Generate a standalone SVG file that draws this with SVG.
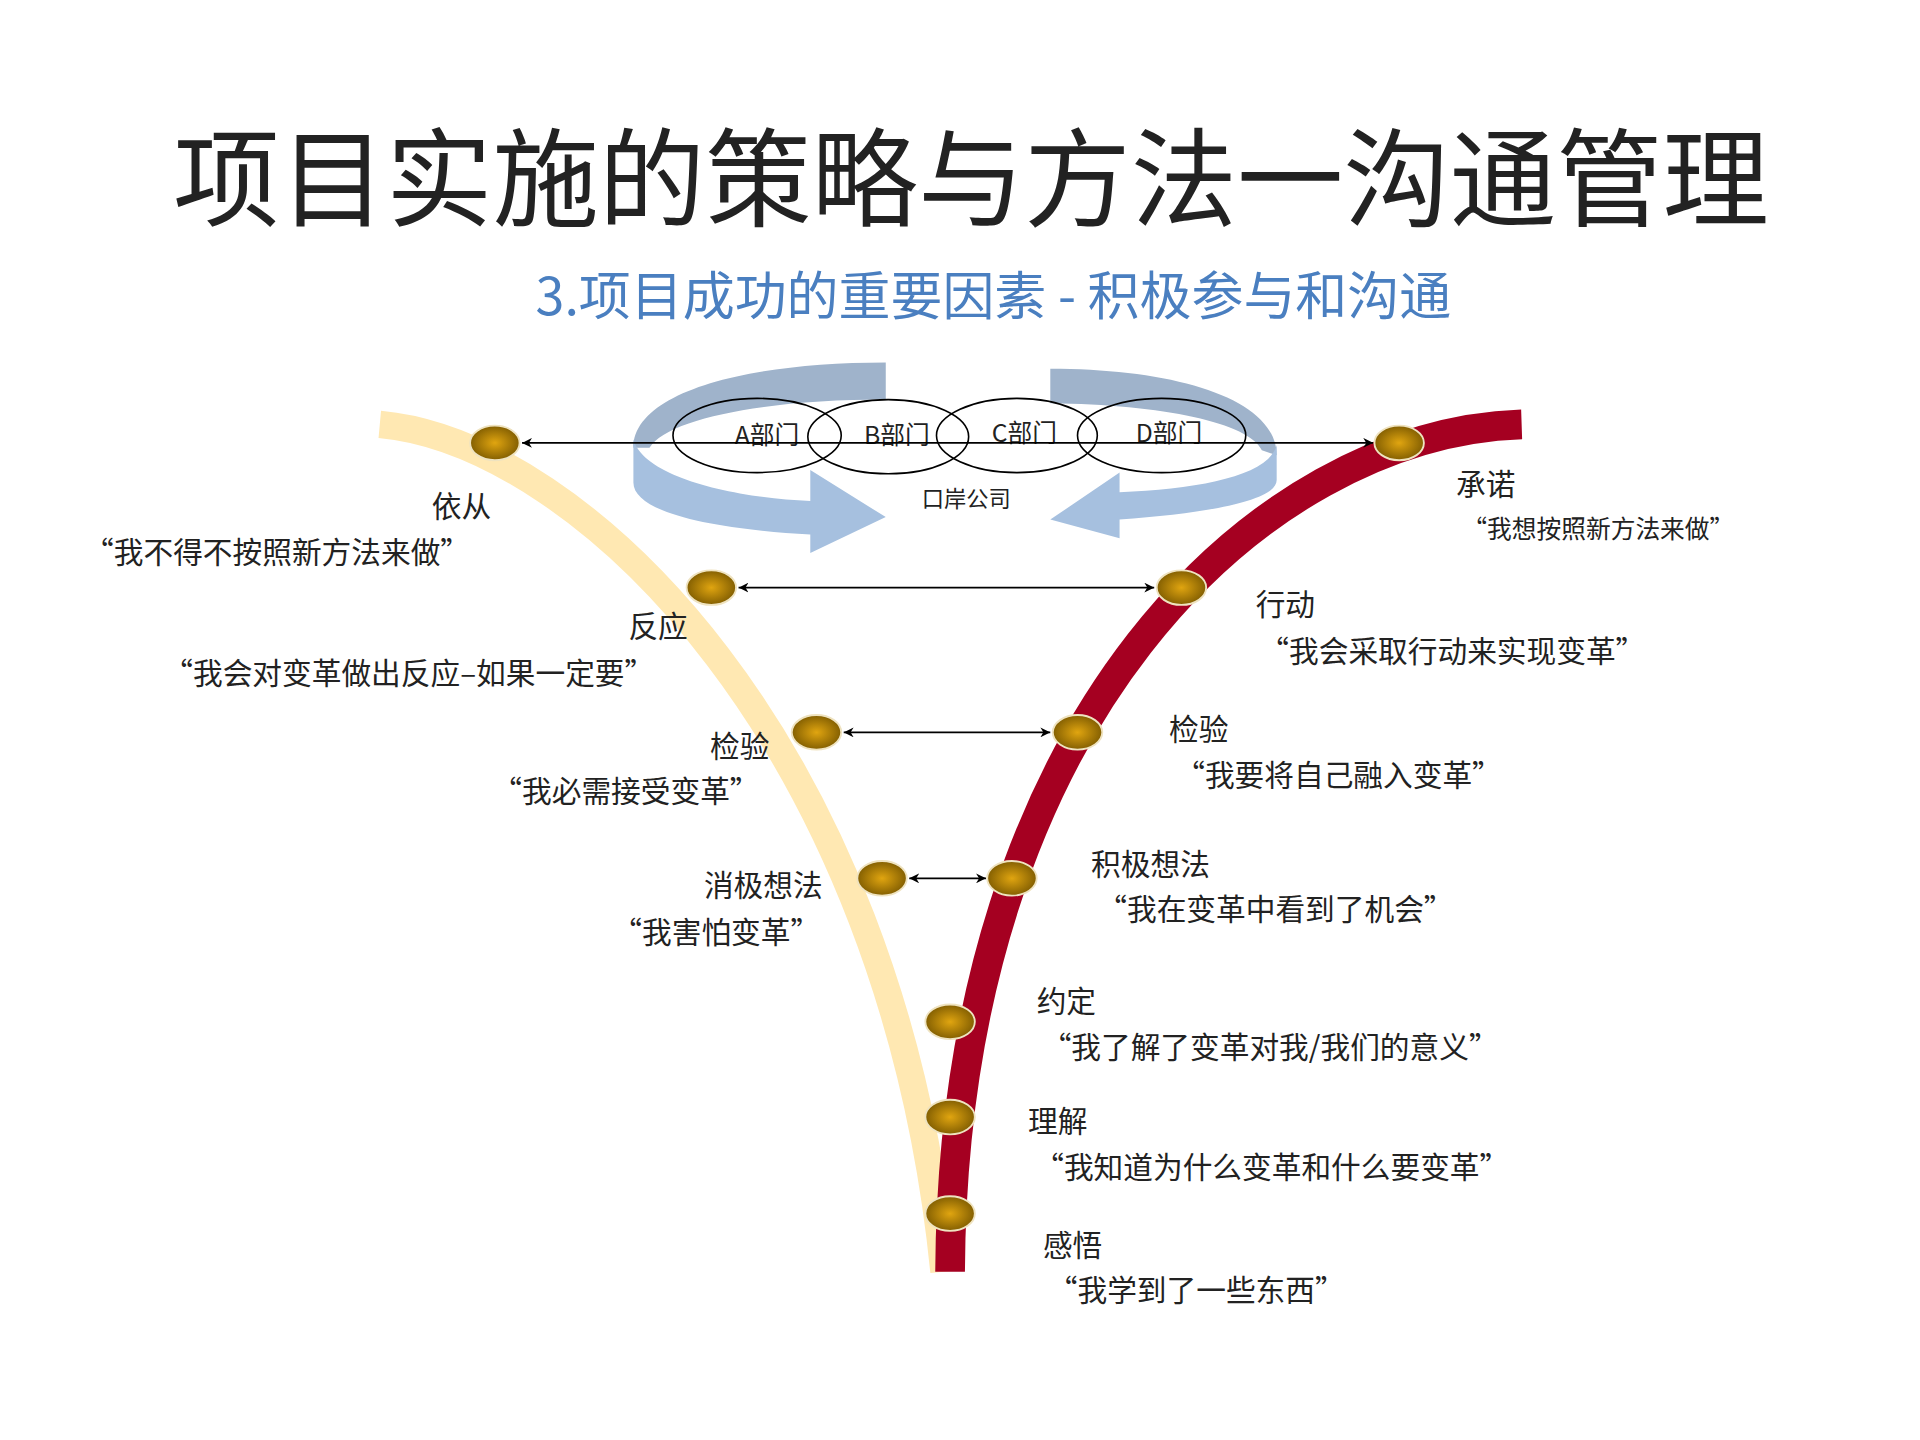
<svg xmlns="http://www.w3.org/2000/svg" width="1920" height="1440" viewBox="0 0 1920 1440">
<defs>
<radialGradient id="gold" cx="50%" cy="50%" r="55%"><stop offset="0" stop-color="#e0a510"/><stop offset="1" stop-color="#7a5800"/></radialGradient>
<marker id="ah" viewBox="0 0 10 10" refX="10" refY="5" markerWidth="8" markerHeight="8" orient="auto-start-reverse" markerUnits="userSpaceOnUse"><path d="M0,0 L10,5 L0,10 L3,5 Z" fill="#000"/></marker>
<style>
.t{font-family:"Noto Sans CJK SC","Liberation Sans",sans-serif;fill:#222}
.lb{font-size:24px}
.dot{fill:url(#gold);stroke:#efe3c0;stroke-width:1.5}
.con{stroke:#000;stroke-width:1.3;fill:none;marker-start:url(#ah);marker-end:url(#ah)}
.el{fill:none;stroke:#000;stroke-width:1.3}
</style>
</defs>
<rect width="1920" height="1440" fill="#fff"/>
<g transform="scale(1.2371)">
<text class="t" x="785" y="176" font-size="86" text-anchor="middle" fill="#000">项目实施的策略与方法一沟通管理</text>
<text class="t" x="803" y="255" font-size="42" text-anchor="middle" style="fill:#4a7fc0">3.项目成功的重要因素 - 积极参与和沟通</text>
<g id="rings">
<path d="M512,362 C512,318 600,293 716,293 L716,323 C620,323 540,338 525,362 Z" fill="#9fb3cb"/>
<path d="M512,355 C520,385 590,402 655,405 L655,380 L716,418 L655,447 L655,432 C580,428 512,415 512,390 Z" fill="#a6c0df"/>
<path d="M1032,368 C1032,322 950,298 849,298 L849,326 C940,327 1010,342 1020,364 Z" fill="#9fb3cb"/>
<path d="M1032,360 C1025,385 970,395 905,398 L905,382 L849,420 L905,435 L905,420 C975,415 1032,405 1032,388 Z" fill="#a6c0df"/>
</g>
<g id="curves">
<path d="M307,343 C470,358 720,600 763,1028" fill="none" stroke="#ffe8b2" stroke-width="22"/>
<path d="M1230,343 C1020,350 770,580 768,1028" fill="none" stroke="#a50021" stroke-width="24"/>
</g>
<g id="depts">
<ellipse class="el" cx="612" cy="352" rx="68" ry="30"/><text class="t" x="620" y="359" font-size="20" text-anchor="middle">A部门</text>
<ellipse class="el" cx="718" cy="353" rx="65" ry="30"/><text class="t" x="725" y="359" font-size="20" text-anchor="middle">B部门</text>
<ellipse class="el" cx="822" cy="352" rx="65" ry="30"/><text class="t" x="828" y="357" font-size="20" text-anchor="middle">C部门</text>
<ellipse class="el" cx="939" cy="352" rx="68" ry="30"/><text class="t" x="945" y="357" font-size="20" text-anchor="middle">D部门</text>
<text class="t" x="781" y="410" font-size="18" text-anchor="middle">口岸公司</text>
</g>
<g id="connectors">
<line class="con" x1="422" y1="358" x2="1110" y2="358"/>
<line class="con" x1="597" y1="475" x2="933" y2="475"/>
<line class="con" x1="682" y1="592" x2="849" y2="592"/>
<line class="con" x1="735" y1="710" x2="797" y2="710"/>
</g>
<g id="n1"><ellipse class="dot" cx="400" cy="358" rx="20" ry="14"/><text class="t lb" x="373" y="418" text-anchor="middle">依从</text><text class="t lb" x="68" y="455">“我不得不按照新方法来做”</text></g>
<g id="n2"><ellipse class="dot" cx="575" cy="475" rx="20" ry="14"/><text class="t lb" x="532" y="515" text-anchor="middle">反应</text><text class="t lb" x="132" y="553">“我会对变革做出反应–如果一定要”</text></g>
<g id="n3"><ellipse class="dot" cx="660" cy="592" rx="20" ry="14"/><text class="t lb" x="598" y="612" text-anchor="middle">检验</text><text class="t lb" x="398" y="648">“我必需接受变革”</text></g>
<g id="n4"><ellipse class="dot" cx="713" cy="710" rx="20" ry="14"/><text class="t lb" x="617" y="724" text-anchor="middle">消极想法</text><text class="t lb" x="495" y="762">“我害怕变革”</text></g>
<g id="n5"><ellipse class="dot" cx="1131" cy="358" rx="20" ry="14"/><text class="t lb" x="1177" y="400">承诺</text><text class="t" font-size="20" x="1182" y="435">“我想按照新方法来做”</text></g>
<g id="n6"><ellipse class="dot" cx="955" cy="475" rx="20" ry="14"/><text class="t lb" x="1015" y="497">行动</text><text class="t lb" x="1018" y="535">“我会采取行动来实现变革”</text></g>
<g id="n7"><ellipse class="dot" cx="871" cy="592" rx="20" ry="14"/><text class="t lb" x="945" y="598">检验</text><text class="t lb" x="950" y="635">“我要将自己融入变革”</text></g>
<g id="n8"><ellipse class="dot" cx="818" cy="710" rx="20" ry="14"/><text class="t lb" x="882" y="707">积极想法</text><text class="t lb" x="887" y="744">“我在变革中看到了机会”</text></g>
<g id="n9"><ellipse class="dot" cx="768" cy="826" rx="20" ry="14"/><text class="t lb" x="838" y="818">约定</text><text class="t lb" x="842" y="855">“我了解了变革对我/我们的意义”</text></g>
<g id="n10"><ellipse class="dot" cx="768" cy="903" rx="20" ry="14"/><text class="t lb" x="831" y="915">理解</text><text class="t lb" x="836" y="952">“我知道为什么变革和什么要变革”</text></g>
<g id="n11"><ellipse class="dot" cx="768" cy="981" rx="20" ry="14"/><text class="t lb" x="843" y="1015">感悟</text><text class="t lb" x="847" y="1052">“我学到了一些东西”</text></g>
</g>
</svg>
